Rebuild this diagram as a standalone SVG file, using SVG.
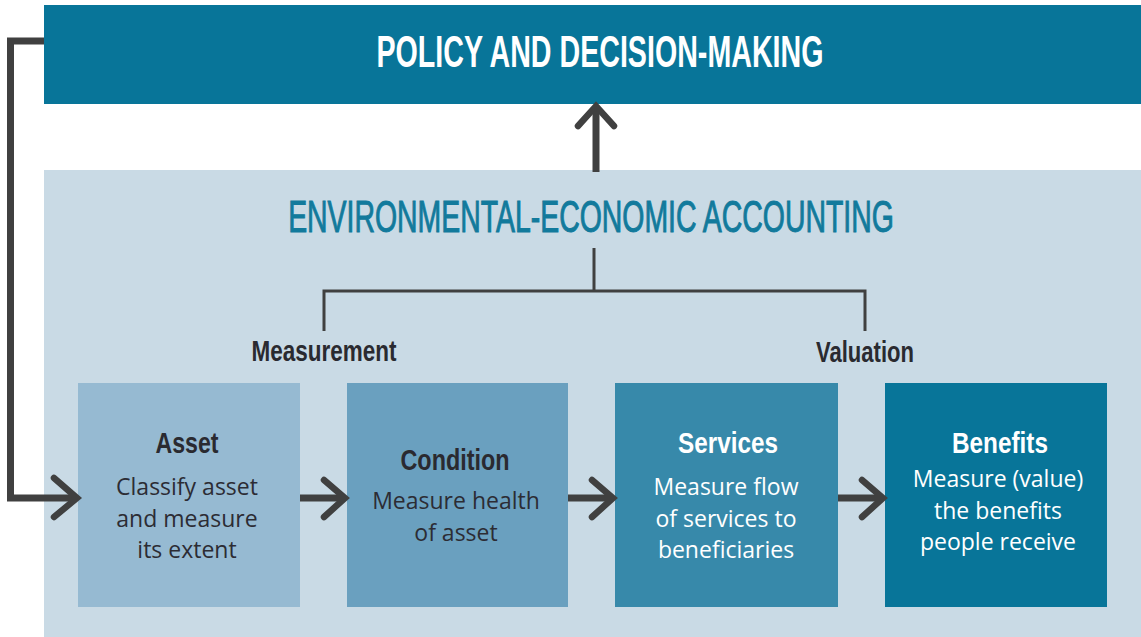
<svg xmlns="http://www.w3.org/2000/svg" width="1141" height="637" viewBox="0 0 1141 637">
<defs>
<style>
.cond{font-family:"Liberation Sans","DejaVu Sans",Arial,sans-serif;font-weight:bold;}
.body{font-family:"Open Sans","Noto Sans","DejaVu Sans",sans-serif;font-size:23px;text-anchor:middle;}
.head{font-size:29px;text-anchor:middle;fill:#2a2a30;}
.dark{fill:#2c2c34;}
.light{fill:#ffffff;}
.conn{fill:none;stroke:#404040;stroke-linecap:butt;stroke-linejoin:miter;}
.thick{stroke-width:7;}
.thin{stroke-width:3;}
.head-chev{fill:none;stroke:#404040;stroke-width:6.5;stroke-linecap:round;stroke-linejoin:miter;}
</style>
</defs>
<rect x="0" y="0" width="1141" height="637" fill="#ffffff"/>
<g id="policy">
<rect x="44" y="5" width="1097" height="99" fill="#087599"/>
<text class="cond" x="600" y="67" font-size="44" text-anchor="middle" fill="#ffffff" textLength="447" lengthAdjust="spacingAndGlyphs">POLICY AND DECISION-MAKING</text>
</g>
<g id="accounting">
<rect x="44" y="170" width="1097" height="467" fill="#c9dae5"/>
<text transform="translate(591 232) scale(0.646 1)" x="0" y="0" font-family="Liberation Sans, DejaVu Sans, sans-serif" font-size="44" text-anchor="middle" fill="#127a9c" stroke="#127a9c" stroke-width="1">ENVIRONMENTAL-ECONOMIC ACCOUNTING</text>
</g>
<g id="measurement-label">
<text class="cond head" x="324" y="361" textLength="145" lengthAdjust="spacingAndGlyphs">Measurement</text>
</g>
<g id="valuation-label">
<text class="cond head" x="865" y="362" textLength="98" lengthAdjust="spacingAndGlyphs">Valuation</text>
</g>
<g id="asset">
<rect x="78" y="383" width="222" height="224" fill="#96bad2"/>
<text class="cond head" x="187" y="453" textLength="63" lengthAdjust="spacingAndGlyphs">Asset</text>
<text class="body dark" x="187" y="495">Classify asset</text>
<text class="body dark" x="187" y="527">and measure</text>
<text class="body dark" x="187" y="558">its extent</text>
</g>
<g id="condition">
<rect x="347" y="383" width="221" height="224" fill="#6aa0bf"/>
<text class="cond head" x="455" y="470" textLength="109" lengthAdjust="spacingAndGlyphs">Condition</text>
<text class="body dark" x="456" y="509">Measure health</text>
<text class="body dark" x="456" y="541">of asset</text>
</g>
<g id="services">
<rect x="615" y="383" width="223" height="224" fill="#3789aa"/>
<text class="cond head light" x="728" y="453" textLength="100" lengthAdjust="spacingAndGlyphs" style="fill:#ffffff">Services</text>
<text class="body light" x="726" y="495">Measure flow</text>
<text class="body light" x="726" y="527">of services to</text>
<text class="body light" x="726" y="558">beneficiaries</text>
</g>
<g id="benefits">
<rect x="885" y="383" width="222" height="224" fill="#087599"/>
<text class="cond head light" x="1000" y="453" textLength="96" lengthAdjust="spacingAndGlyphs" style="fill:#ffffff">Benefits</text>
<text class="body light" x="998" y="487">Measure (value)</text>
<text class="body light" x="998" y="519">the benefits</text>
<text class="body light" x="998" y="550">people receive</text>
</g>
<g id="connectors">
<path class="conn thick" d="M44 41 H10.5 V498 H75"/>
<path class="head-chev" d="M54 478 L77 498 L54 517"/>
<path class="conn thick" d="M596 172 V108"/>
<path class="head-chev" d="M578 126 L596 106 L614 126"/>
<path class="conn thin" d="M594 248 V291 M324 331 V291 H865 V331"/>
<path class="conn thick" d="M300 498 H344"/>
<path class="head-chev" d="M324 480 L345 498 L324 517"/>
<path class="conn thick" d="M568 498 H612"/>
<path class="head-chev" d="M592 480 L613 498 L592 517"/>
<path class="conn thick" d="M838 498 H882"/>
<path class="head-chev" d="M862 480 L883 498 L862 517"/>
</g>
</svg>
